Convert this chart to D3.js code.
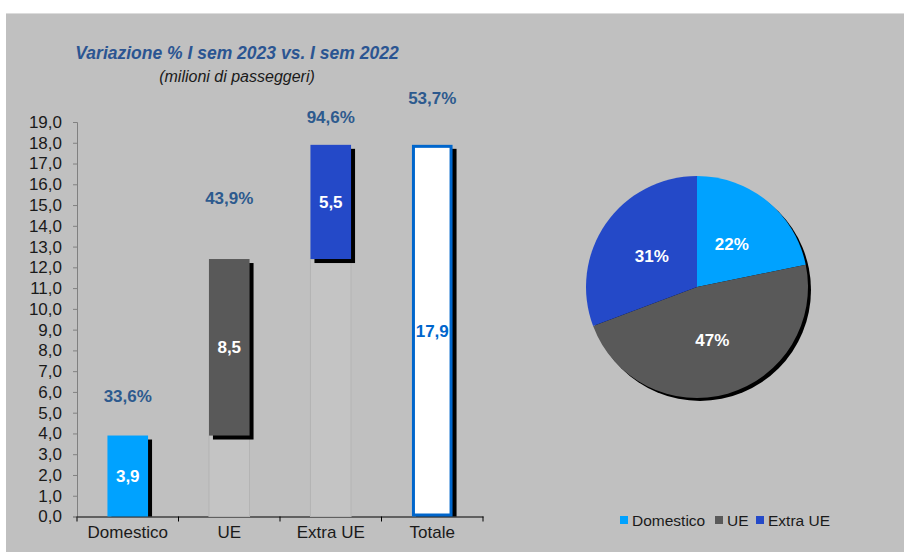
<!DOCTYPE html>
<html>
<head>
<meta charset="utf-8">
<script src="https://cdn.jsdelivr.net/npm/d3@7"></script>
<style>
body { margin: 0; background: #fff; }
svg { display: block; font-family: Arial, "Liberation Sans", sans-serif; }
</style>
</head>
<body>
<svg width="904" height="552"></svg>
<script>
// data
const categories = ["Domestico", "UE", "Extra UE", "Totale"];
const values = [3.9, 8.5, 5.5, 17.9];
const bases = [0, 3.9, 12.4, 0];
const valueLabels = ["3,9", "8,5", "5,5", "17,9"];
const pctLabels = ["33,6%", "43,9%", "94,6%", "53,7%"];
const yTicks = d3.range(0, 20);
const pieNames = ["Domestico", "UE", "Extra UE"];
const pieValues = [3.9, 8.5, 5.5];
const colors = ["#00a2ff", "#595959", "#2449c8", "#ffffff"];

// pixel offsets of the % labels above each bar top (as in the original)
const pctOffset = [40, 61, 28, 47];

const svg = d3.select("svg");

svg.append("rect")
  .attr("x", 6).attr("y", 13)
  .attr("width", 898).attr("height", 539)
  .attr("fill", "#c0c0c0");
svg.append("line")
  .attr("x1", 6).attr("x2", 904).attr("y1", 13.5).attr("y2", 13.5)
  .attr("stroke", "#dcdcdc");

// title
svg.append("text")
  .attr("x", 237).attr("y", 59)
  .attr("text-anchor", "middle")
  .style("font-size", "17.5px").style("font-weight", "bold").style("font-style", "italic")
  .attr("fill", "#2b5592")
  .text("Variazione % I sem 2023 vs. I sem 2022");
svg.append("text")
  .attr("x", 237).attr("y", 82)
  .attr("text-anchor", "middle")
  .style("font-size", "16px").style("font-style", "italic")
  .attr("fill", "#1a1a1a")
  .text("(milioni di passeggeri)");

// bar chart
const left = 77, right = 483, bottom = 516.5;
const x = d3.scaleBand().domain(categories).range([left, right]).paddingInner(0.6).paddingOuter(0.3);
const y = d3.scaleLinear().domain([0, 19]).range([bottom, 122]);
const fmt = d => d.toFixed(1).replace(".", ",");

const gy = svg.append("g")
  .attr("transform", "translate(" + left + ",0)")
  .call(d3.axisLeft(y).tickValues(yTicks).tickFormat(fmt).tickSize(4).tickPadding(11));
gy.select(".domain").attr("stroke", "#808080");
gy.selectAll(".tick line").attr("stroke", "#808080");
gy.selectAll("text").style("font-size", "17px").style("font-family", "Arial, 'Liberation Sans', sans-serif").attr("fill", "#1a1a1a");

const xb = d3.scaleBand().domain(categories).range([left, right]);
const gx = svg.append("g")
  .attr("transform", "translate(0," + bottom + ")")
  .call(d3.axisBottom(xb).tickSize(0).tickPadding(9));
gx.select(".domain").attr("stroke", "#000");
gx.selectAll("text").style("font-size", "17px").style("font-family", "Arial, 'Liberation Sans', sans-serif").attr("fill", "#1a1a1a");
// tick marks between categories
svg.append("g").selectAll("line")
  .data(categories.map((c, i) => left + xb.step() * (i + 1)).concat([left]))
  .enter().append("line")
  .attr("x1", d => d).attr("x2", d => d)
  .attr("y1", bottom).attr("y2", bottom + 5)
  .attr("stroke", "#000");

const bw = x.bandwidth();

// ghost bases
svg.append("g").selectAll("rect")
  .data(categories.filter((c, i) => bases[i] > 0))
  .enter().append("rect")
  .attr("x", d => x(d))
  .attr("y", d => y(bases[categories.indexOf(d)]))
  .attr("width", bw)
  .attr("height", d => bottom - y(bases[categories.indexOf(d)]))
  .attr("fill", "#c4c4c4")
  .attr("stroke", "#b4b4b4").attr("stroke-width", 1);

// shadows
svg.append("g").selectAll("rect")
  .data(categories)
  .enter().append("rect")
  .attr("x", (d, i) => x(d) + 4)
  .attr("y", (d, i) => y(bases[i] + values[i]) + 4)
  .attr("width", bw)
  .attr("height", (d, i) => Math.min(y(bases[i]) + 4, bottom) - (y(bases[i] + values[i]) + 4))
  .attr("fill", "#000");

// bars
svg.append("g").selectAll("rect")
  .data(categories)
  .enter().append("rect")
  .attr("x", (d, i) => x(d) + (i === 3 ? 1.5 : 0))
  .attr("y", (d, i) => y(bases[i] + values[i]) + (i === 3 ? 1.5 : 0))
  .attr("width", (d, i) => bw - (i === 3 ? 3 : 0))
  .attr("height", (d, i) => y(bases[i]) - y(bases[i] + values[i]) - (i === 3 ? 3 : 0))
  .attr("fill", (d, i) => colors[i])
  .attr("stroke", (d, i) => i === 3 ? "#0066cc" : "none")
  .attr("stroke-width", 3);

// value labels
svg.append("g").selectAll("text")
  .data(categories)
  .enter().append("text")
  .attr("x", d => x(d) + bw / 2)
  .attr("y", (d, i) => (y(bases[i]) + y(bases[i] + values[i])) / 2 + 6)
  .attr("text-anchor", "middle")
  .style("font-size", "17px").style("font-weight", "bold")
  .attr("fill", (d, i) => i === 3 ? "#0066cc" : "#fff")
  .text((d, i) => valueLabels[i]);

// % labels
svg.append("g").selectAll("text")
  .data(categories)
  .enter().append("text")
  .attr("x", d => x(d) + bw / 2)
  .attr("y", (d, i) => y(bases[i] + values[i]) - pctOffset[i] + 6)
  .attr("text-anchor", "middle")
  .style("font-size", "17px").style("font-weight", "bold")
  .attr("fill", "#2d5a8e")
  .text((d, i) => pctLabels[i]);

// pie
const cx = 697, cy = 287, r = 111;
const pie = d3.pie().sort(null)(pieValues);
const arc = d3.arc().innerRadius(0).outerRadius(r);
const labelArc = d3.arc().innerRadius(55).outerRadius(55);
const total = d3.sum(pieValues);

svg.append("circle")
  .attr("cx", cx + 3).attr("cy", cy + 3).attr("r", r)
  .attr("fill", "#000");

const gp = svg.append("g").attr("transform", "translate(" + cx + "," + cy + ")");
gp.selectAll("path")
  .data(pie)
  .enter().append("path")
  .attr("d", arc)
  .attr("fill", (d, i) => colors[i]);
gp.selectAll("text")
  .data(pie)
  .enter().append("text")
  .attr("transform", d => "translate(" + labelArc.centroid(d) + ")")
  .attr("dy", "0.35em")
  .attr("text-anchor", "middle")
  .style("font-size", "17px").style("font-weight", "bold")
  .attr("fill", "#fff")
  .text(d => Math.round(d.value / total * 100) + "%");

// legend
const legendX = [620, 715, 756];
const lg = svg.append("g").selectAll("g")
  .data(pieNames)
  .enter().append("g")
  .attr("transform", (d, i) => "translate(" + legendX[i] + ",520)");
lg.append("rect")
  .attr("x", 0).attr("y", -4).attr("width", 8).attr("height", 8)
  .attr("fill", (d, i) => colors[i]);
lg.append("text")
  .attr("x", 12).attr("y", 5.5)
  .style("font-size", "15.5px")
  .attr("fill", "#1a1a1a")
  .text(d => d);
</script>
</body>
</html>
